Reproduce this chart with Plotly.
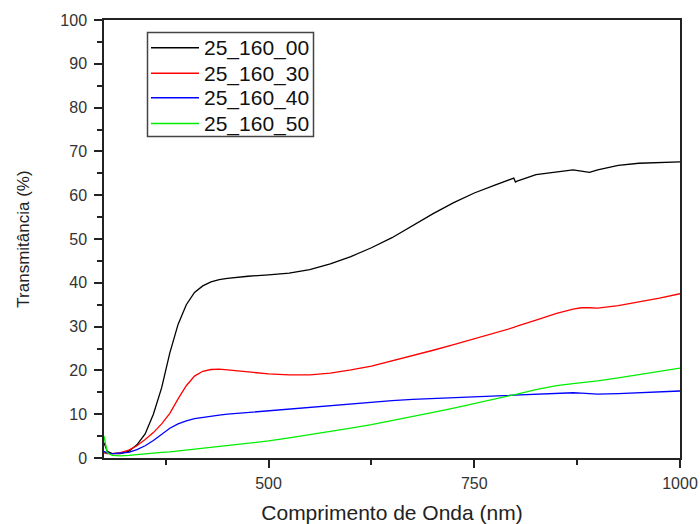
import plotly.graph_objects as go

wavelength = [300, 304, 310, 320, 330, 340, 350, 360, 370, 380, 390, 400, 410, 420, 430, 440, 450,
              475, 500, 525, 550, 575, 600, 625, 650, 675, 700, 725, 750, 775, 790, 798, 800, 802,
              825, 850, 870, 880, 890, 900, 925, 950, 975, 1000]

t_00 = [3.5, 1.5, 1.0, 1.0, 1.5, 3.0, 5.5, 10.0, 16.0, 24.0, 30.5, 35.0, 37.8, 39.3, 40.2, 40.7, 41.0,
        41.5, 41.8, 42.2, 43.0, 44.3, 46.0, 48.0, 50.3, 53.0, 55.8, 58.3, 60.5, 62.3, 63.3, 63.9, 63.0, 63.2,
        64.7, 65.4, 65.8, 65.5, 65.2, 65.8, 66.8, 67.3, 67.5, 67.6]

t_30 = [1.2, 1.0, 1.0, 1.2, 1.8, 2.8, 4.2, 5.8, 7.8, 10.2, 13.5, 16.5, 18.7, 19.8, 20.2, 20.3, 20.1,
        19.6, 19.2, 19.0, 19.0, 19.4, 20.1, 21.0, 22.2, 23.3, 24.6, 25.9, 27.2, 28.5, 29.3, 29.8, 30.0, 30.1,
        31.5, 33.0, 34.0, 34.3, 34.3, 34.2, 34.8, 35.6, 36.5, 37.5]

t_40 = [1.5, 1.1, 1.0, 1.1, 1.3, 1.9, 2.8, 4.0, 5.4, 6.8, 7.8, 8.5, 9.0, 9.3, 9.6, 9.8, 10.0,
        10.4, 10.8, 11.2, 11.6, 12.0, 12.4, 12.8, 13.1, 13.4, 13.6, 13.8, 14.0, 14.1, 14.2, 14.3, 14.3, 14.4,
        14.6, 14.8, 14.9, 14.8, 14.7, 14.6, 14.7, 14.9, 15.1, 15.3]

t_50 = [5.0, 1.2, 0.6, 0.5, 0.6, 0.8, 0.9, 1.1, 1.3, 1.4, 1.6, 1.8, 2.0, 2.2, 2.4, 2.6, 2.8,
        3.3, 3.9, 4.6, 5.3, 6.0, 6.8, 7.6, 8.5, 9.4, 10.4, 11.4, 12.4, 13.5, 14.1, 14.4, 14.5, 14.6,
        15.6, 16.5, 17.0, 17.2, 17.4, 17.6, 18.3, 19.0, 19.7, 20.5]

series_names = ["25_160_00", "25_160_30", "25_160_40", "25_160_50"]
series_values = [t_00, t_30, t_40, t_50]
series_colors = ["#000000", "#ff0000", "#0000ff", "#00ee00"]

W, H = 700, 524
ML, MR, MT, MB = 104, 20, 20, 66
PW, PH = W - ML - MR, H - MT - MB


def px_x(p):
    return (p - ML) / PW


def px_y(p):
    return (H - MB - p) / PH


fig = go.Figure()
for name, vals, col in zip(series_names, series_values, series_colors):
    fig.add_trace(go.Scatter(x=wavelength, y=vals, mode="lines", name=name,
                             line=dict(color=col, width=1.3), showlegend=False))

font_family = "Liberation Sans, Arial, sans-serif"

# custom legend box (layout decoration) matching the original's compact rows
shapes = [dict(type="rect", xref="paper", yref="paper",
               x0=px_x(147.5), x1=px_x(313.5), y0=px_y(136.5), y1=px_y(32.5),
               line=dict(color="#444444", width=1.5), fillcolor="white", layer="above")]
annotations = []
row_y = [47.7, 73.3, 97.7, 123.5]
for ry, name, col in zip(row_y, series_names, series_colors):
    shapes.append(dict(type="line", xref="paper", yref="paper",
                       x0=px_x(151), x1=px_x(199), y0=px_y(ry), y1=px_y(ry),
                       line=dict(color=col, width=1.5), layer="above"))
    annotations.append(dict(xref="paper", yref="paper", x=px_x(201.5), y=px_y(ry + 0.5),
                            xanchor="left", yanchor="middle", showarrow=False, text=name,
                            font=dict(family=font_family, size=21, color="#111111")))

axis_common = dict(showgrid=False, zeroline=False, showline=True, linecolor="#222222",
                   linewidth=1.5, mirror=True, ticks="outside", tickcolor="#222222",
                   ticklen=8, tickwidth=1.5, automargin=False,
                   tickfont=dict(family=font_family, size=16, color="#333333"))

fig.update_layout(
    width=W, height=H,
    margin=dict(l=ML, r=MR, t=MT, b=MB),
    paper_bgcolor="white", plot_bgcolor="white",
    showlegend=False,
    shapes=shapes,
    annotations=annotations,
    xaxis=dict(range=[300, 1000], tick0=0, dtick=250, ticklabelstandoff=2,
               minor=dict(dtick=125, tick0=0, ticklen=5, ticks="outside", tickcolor="#222222", showgrid=False),
               title=dict(text="Comprimento de Onda (nm)", standoff=14,
                          font=dict(family=font_family, size=21, color="#222222")),
               **axis_common),
    yaxis=dict(range=[0, 100], tick0=0, dtick=10, ticklabelstandoff=4,
               minor=dict(dtick=5, tick0=0, ticklen=5, ticks="outside", tickcolor="#222222", showgrid=False),
               title=dict(text="Transmitância (%)", standoff=26,
                          font=dict(family=font_family, size=17, color="#222222")),
               **axis_common),
)

fig.write_html("out.html")
